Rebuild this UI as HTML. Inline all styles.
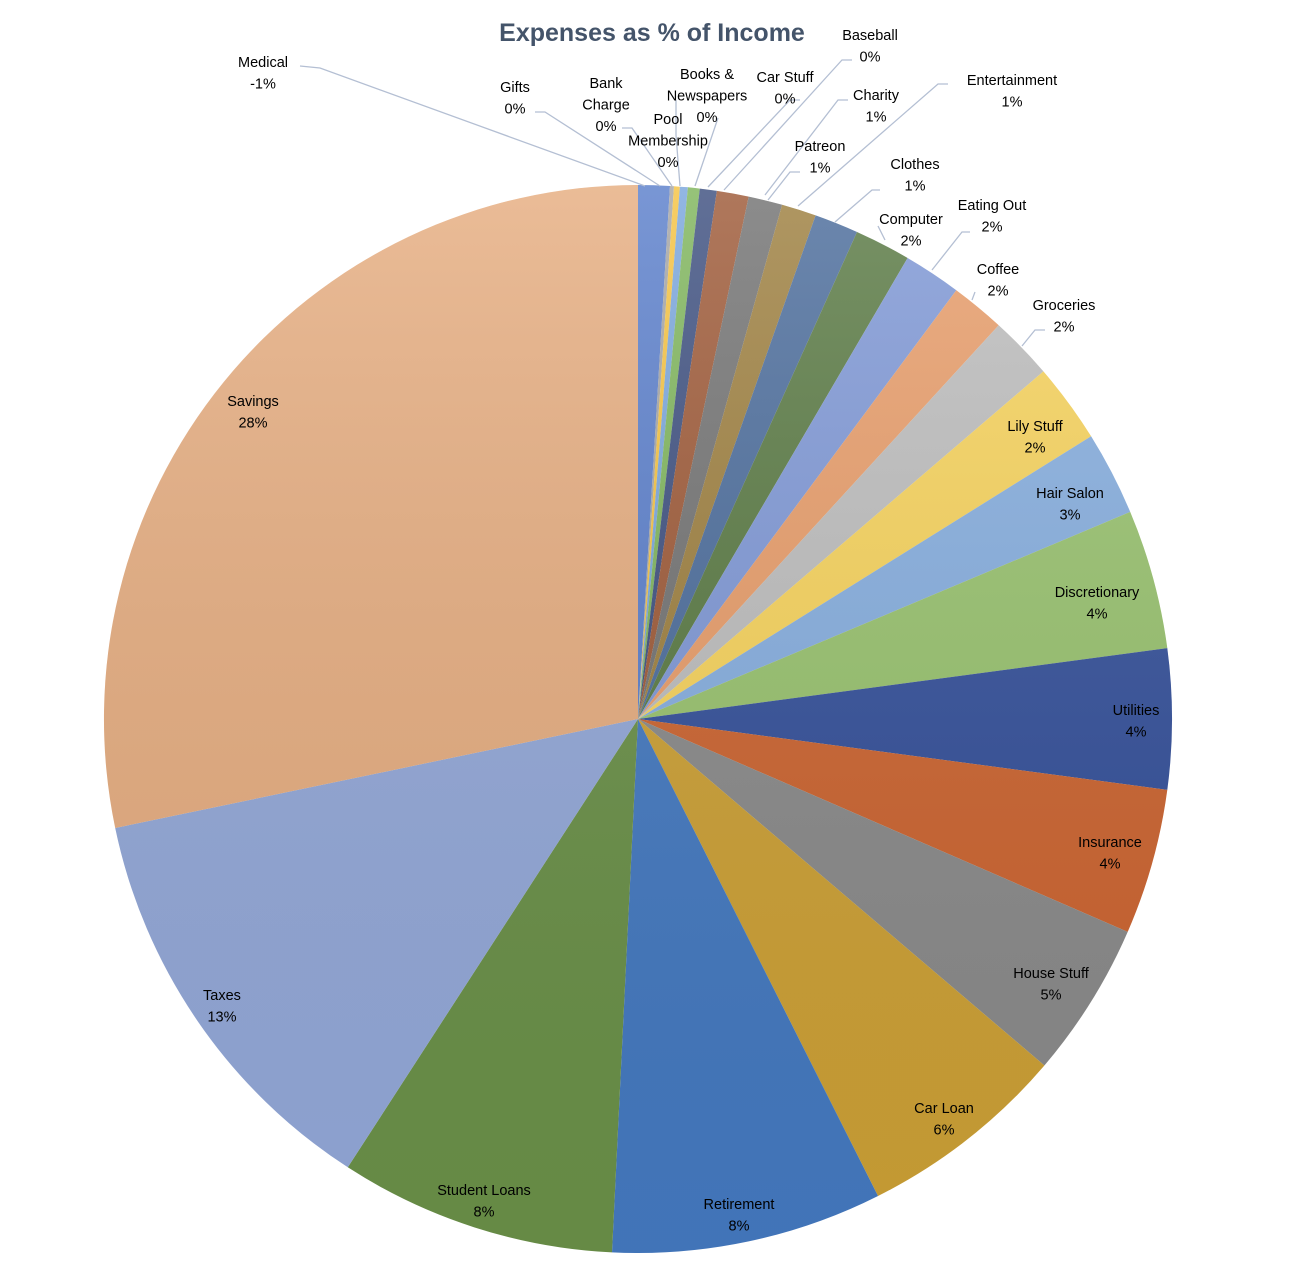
<!DOCTYPE html>
<html><head><meta charset="utf-8"><style>
html,body{margin:0;padding:0;background:#fff;}
svg{display:block;font-family:"Liberation Sans",sans-serif;}
</style></head><body>
<svg id="s" width="1298" height="1268" viewBox="0 0 1298 1268" xmlns="http://www.w3.org/2000/svg">
<defs>
<linearGradient id="ov" x1="0" y1="0" x2="0" y2="1">
<stop offset="0" stop-color="#fff" stop-opacity="0.18"/>
<stop offset="1" stop-color="#000" stop-opacity="0.04"/>
</linearGradient>
</defs>
<g id="pie"></g>
<circle cx="638" cy="719" r="534" fill="url(#ov)"/>
<text x="652" y="41" text-anchor="middle" font-size="25" font-weight="bold" fill="#44546a">Expenses as % of Income</text>
<g stroke="#b4bfd3" stroke-width="1.3" fill="none">
<polyline points="300,66 320,68 645,186"/>
<polyline points="535,112 545,112 660,186"/>
<polyline points="622,128 632,128 672,186"/>
<polyline points="676,100 676,135 680,186"/>
<polyline points="718,118 695,186"/>
<polyline points="800,100 790,100 708,187"/>
<polyline points="852,60 842,60 724,190"/>
<polyline points="848,100 838,100 765,195"/>
<polyline points="948,84 938,84 798,206"/>
<polyline points="800,172 790,172 768,200"/>
<polyline points="880,190 872,190 835,222"/>
<polyline points="878,226 885,240"/>
<polyline points="970,232 962,232 932,270"/>
<polyline points="975,292 972,300"/>
<polyline points="1045,330 1035,330 1022,346"/>
</g>
<g font-size="14.5" fill="#000" text-anchor="middle" id="lbl"></g>
</svg>
<script>
var cx=638,cy=719,r=534;
var pts=[[638,185],[670,186],[674,186],[680,186],[688,186],[700,187],[717,190],[749,195],[782,205],[815,217],[857,232],[907,259],[955,292],[998,326],[1045,370],[1090,437],[1130,512],[1168,648],[1168,790],[1128,932],[1045,1066],[878,1196],[612,1253],[348,1167],[115,828]];
var cols=["#5b7fcb","#a5a5a5","#f5c342","#7aa6dc","#7fb55c","#3e5080","#9e5a38","#737373","#9e8040","#4c6d9c","#5a7a44","#7f98d6","#e89d6a","#bdbdbd","#f7d35c","#86aedf","#98c26e","#34509a","#cc6430","#8a8a8a","#cca035","#4479c0","#6a9048","#93a8d8","#e6ad80"];
function ang(p){return Math.atan2(p[0]-cx,-(p[1]-cy));}
var g=document.getElementById('pie'),h='';
for(var i=0;i<pts.length;i++){
 var a=ang(pts[i]),b=(i+1<pts.length)?ang(pts[i+1]):2*Math.PI;
 if(a<0)a+=2*Math.PI; if(b<=0)b+=2*Math.PI; if(b<a)b+=2*Math.PI;
 var x1=cx+r*Math.sin(a),y1=cy-r*Math.cos(a),x2=cx+r*Math.sin(b),y2=cy-r*Math.cos(b);
 var la=(b-a)>Math.PI?1:0;
 h+='<path d="M'+cx+','+cy+' L'+x1.toFixed(1)+','+y1.toFixed(1)+' A'+r+','+r+' 0 '+la+' 1 '+x2.toFixed(1)+','+y2.toFixed(1)+' Z" fill="'+cols[i]+'"/>';
}
g.innerHTML=h;
var L=[[263,62,"Medical","-1%"],[515,87,"Gifts","0%"],[606,83,"Bank","Charge","0%"],[668,119,"Pool","Membership","0%"],[707,74,"Books &amp;","Newspapers","0%"],[785,77,"Car Stuff","0%"],[870,35,"Baseball","0%"],[876,95,"Charity","1%"],[1012,80,"Entertainment","1%"],[820,146,"Patreon","1%"],[915,164,"Clothes","1%"],[911,219,"Computer","2%"],[992,205,"Eating Out","2%"],[998,269,"Coffee","2%"],[1064,305,"Groceries","2%"],[1035,426,"Lily Stuff","2%"],[1070,493,"Hair Salon","3%"],[1097,592,"Discretionary","4%"],[1136,710,"Utilities","4%"],[1110,842,"Insurance","4%"],[1051,973,"House Stuff","5%"],[944,1108,"Car Loan","6%"],[739,1204,"Retirement","8%"],[484,1190,"Student Loans","8%"],[222,995,"Taxes","13%"],[253,401,"Savings","28%"]];
var t='';
L.forEach(function(l){for(var k=2;k<l.length;k++){t+='<text x="'+l[0]+'" y="'+(l[1]+5+(k-2)*21.5)+'">'+l[k]+'</text>';}});
document.getElementById('lbl').innerHTML=t;
</script>
</body></html>
